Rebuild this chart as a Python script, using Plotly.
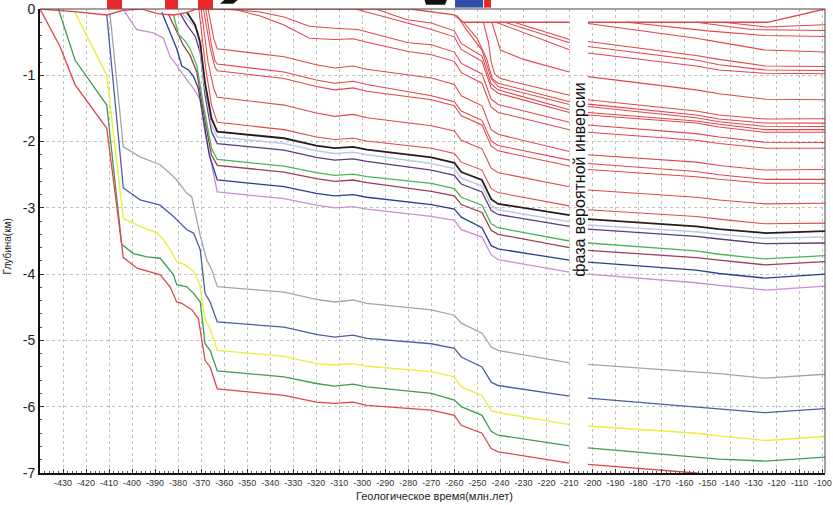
import plotly.graph_objects as go

# ---------------- data ----------------
x_tick_vals = list(range(-430, -99, 10))
x_tick_text = [str(v) for v in x_tick_vals]
y_tick_vals = [0, -1, -2, -3, -4, -5, -6, -7]
y_tick_text = ["0", "-1", "-2", "-3", "-4", "-5", "-6", "-7"]

# common time knots (млн лет) for horizons older than -363; None = break of the record
TK = [-363, -334, -320, -312, -304, -298, -270, -260, -257, -248, -244, -241, -210, None, -202, -155, -145, -125, -99]

# surface line
surf_t = [-440, -425, -411, -404, -396, -389, -382, -376, -372, -279, -260, -256, -210, None, -202, -124, -99]
surf_d = [0, -0.04, -0.09, -0.02, 0, -0.07, -0.09, -0.05, 0, 0, -0.09, -0.2, -0.2, None, -0.2, -0.2, 0]

# deep horizons: early part (t, d) and depths at TK
red_deep_pre_t = [-440, -431.3, -424.8, -411, -403.8, -397.8, -387.8, -383.5, -380.6, -378.4, -374, -371.2, -368.3, -366.1]
red_deep_pre_d = [0, -0.565, -1.14, -1.80, -3.75, -3.91, -4.01, -4.19, -4.42, -4.44, -4.54, -4.67, -5.30, -5.40]
red_deep_main = [-5.73, -5.83, -5.93, -5.95, -5.93, -5.98, -6.05, -6.13, -6.28, -6.40, -6.63, -6.68, -6.85, None, -6.87, -7.00, -7.05, -7.09, -7.01]

green_deep_pre_t = [-432, -424.8, -411, -404.5, -399.4, -393.6, -387.8, -384.9, -382, -380.6, -376.2, -373.3, -370.4, -368.3, -366.1]
green_deep_pre_d = [0, -0.77, -1.45, -3.55, -3.69, -3.74, -3.76, -3.89, -4.01, -4.16, -4.19, -4.29, -4.42, -5.05, -5.15]
green_deep_main = [-5.46, -5.55, -5.65, -5.69, -5.66, -5.70, -5.80, -5.90, -6.00, -6.13, -6.37, -6.43, -6.59, None, -6.62, -6.76, -6.79, -6.82, -6.76]

yellow_pre_t = [-425, -411, -403.8, -396.5, -389, -386.4, -383.5, -380.6, -377, -373.3, -370.7, -368.3, -366.1]
yellow_pre_d = [-0.04, -1.0, -3.16, -3.28, -3.38, -3.48, -3.63, -3.81, -3.86, -3.96, -4.14, -4.69, -4.82]
yellow_main = [-5.15, -5.24, -5.35, -5.37, -5.35, -5.39, -5.47, -5.55, -5.70, -5.83, -6.06, -6.09, -6.27, None, -6.29, -6.40, -6.44, -6.51, -6.45]

blue_pre_t = [-411, -403.8, -396.5, -387.8, -382, -376.2, -373.3, -370.4, -368.3, -366.1]
blue_pre_d = [-0.09, -2.70, -2.88, -2.96, -3.13, -3.33, -3.38, -3.63, -4.29, -4.42]
blue_main = [-4.72, -4.80, -4.91, -4.95, -4.92, -4.97, -5.05, -5.12, -5.25, -5.40, -5.63, -5.68, -5.84, None, -5.87, -6.00, -6.03, -6.09, -6.03]

gray_pre_t = [-409.6, -403.8, -396.5, -387.8, -383.5, -380.6, -376.2, -374.1, -370.4, -367.5, -365.3]
gray_pre_d = [-0.07, -2.08, -2.23, -2.35, -2.48, -2.58, -2.78, -2.83, -3.42, -3.79, -3.94]
gray_main = [-4.19, -4.27, -4.38, -4.42, -4.39, -4.44, -4.54, -4.62, -4.74, -4.89, -5.10, -5.15, -5.34, None, -5.36, -5.47, -5.50, -5.57, -5.51]

# middle coloured horizons
pink_pre_t = [-403.8, -398, -390.7, -386.4, -383.5, -380.6, -377.7, -373.3, -370.4, -368.3, -366.1]
pink_pre_d = [-0.01, -0.31, -0.36, -0.44, -0.72, -0.85, -1.0, -1.2, -1.37, -1.87, -2.23]
pink_main = [-2.76, -2.86, -2.96, -3.00, -2.98, -3.02, -3.13, -3.19, -3.33, -3.44, -3.71, -3.78, -3.97, None, -4.00, -4.13, -4.17, -4.24, -4.18]

navy_pre_t = [-387.1, -383.5, -380.6, -378.4, -375.5, -373.3, -371.2, -369.7, -366.5]
navy_pre_d = [-0.05, -0.36, -0.6, -0.86, -0.92, -1.02, -1.2, -1.52, -2.2]
navy_main = [-2.58, -2.68, -2.78, -2.82, -2.80, -2.84, -2.95, -3.02, -3.14, -3.30, -3.57, -3.62, -3.79, None, -3.82, -3.94, -3.99, -4.06, -4.00]

brown_pre_t = [-384.2, -380.6, -377.7, -374.8, -371.9, -368.3, -365.5]
brown_pre_d = [-0.08, -0.35, -0.55, -0.7, -0.95, -1.7, -2.2]
brown_main = [-2.36, -2.46, -2.56, -2.60, -2.58, -2.62, -2.75, -2.82, -2.95, -3.07, -3.34, -3.40, -3.60, None, -3.64, -3.75, -3.79, -3.86, -3.81]

greenm_pre_t = [-382, -379.9, -377, -374.8, -371.9, -369, -365.5]
greenm_pre_d = [-0.09, -0.38, -0.48, -0.6, -0.85, -1.45, -2.1]
greenm_main = [-2.27, -2.37, -2.47, -2.51, -2.49, -2.53, -2.63, -2.71, -2.84, -2.96, -3.24, -3.30, -3.50, None, -3.53, -3.65, -3.70, -3.77, -3.72]

purple_pre_t = [-379.1, -376.2, -372.6, -370.4, -368.3, -365.5]
purple_pre_d = [-0.07, -0.24, -0.41, -0.66, -1.3, -1.85]
purple_main = [-2.03, -2.13, -2.24, -2.28, -2.26, -2.30, -2.43, -2.51, -2.64, -2.76, -3.04, -3.10, -3.28, None, -3.32, -3.43, -3.47, -3.54, -3.53]

lblue_pre_t = [-378.4, -374.1, -371.2, -369, -365.5]
lblue_pre_d = [-0.07, -0.21, -0.36, -1.05, -1.75]
lblue_main = [-1.93, -2.03, -2.14, -2.18, -2.16, -2.20, -2.33, -2.41, -2.55, -2.67, -2.96, -3.03, -3.21, None, -3.26, -3.36, -3.40, -3.46, -3.44]

black_pre_t = [-376.2, -372.6, -370.4, -368.3, -365.5]
black_pre_d = [-0.05, -0.24, -0.51, -1.12, -1.65]
black_main = [-1.85, -1.95, -2.06, -2.10, -2.08, -2.12, -2.24, -2.32, -2.46, -2.58, -2.87, -2.94, -3.11, None, -3.17, -3.28, -3.32, -3.38, -3.35]

# red horizons from the -370 fan
re_pre_t = [-371, -368, -365.5]
re_pre_d = [0, -0.9, -1.45]
re_main = [-1.71, -1.82, -1.93, -1.97, -1.95, -1.99, -2.10, -2.18, -2.31, -2.43, -2.71, -2.77, -2.97, None, -3.03, -3.13, -3.17, -3.24, -3.23]
rd_pre_t = [-370, -367, -364.5]
rd_pre_d = [0, -0.8, -1.2]
rd_main = [-1.33, -1.45, -1.57, -1.62, -1.59, -1.64, -1.76, -1.84, -1.98, -2.11, -2.40, -2.47, -2.68, None, -2.73, -2.84, -2.88, -2.94, -2.93]
rc_pre_t = [-369, -366, -364]
rc_pre_d = [0, -0.6, -0.88]
rc_main = [-0.93, -1.05, -1.17, -1.22, -1.19, -1.24, -1.37, -1.46, -1.61, -1.75, -2.07, -2.14, -2.37, None, -2.42, -2.53, -2.57, -2.63, -2.63]
rb_pre_t = [-368, -365.5, -364]
rb_pre_d = [0, -0.55, -0.78]
rb_main = [-0.83, -0.95, -1.07, -1.12, -1.09, -1.14, -1.31, -1.40, -1.54, -1.68, -1.99, -2.06, -2.28, None, -2.33, -2.45, -2.50, -2.57, -2.57]
ra_pre_t = [-367, -364.5]
ra_pre_d = [0, -0.45]
ra_main = [-0.60, -0.72, -0.84, -0.89, -0.86, -0.91, -1.04, -1.14, -1.31, -1.46, -1.82, -1.89, -2.15, None, -2.20, -2.31, -2.36, -2.43, -2.42]

# younger red horizons (own time knots)
la_t = [-356, -344, -334, -323, -312, -304, -298, -280, -270, -260, -257, -248, -244, -241, -210, None, -202, -155, -145, -125, -99]
la_d = [0, -0.11, -0.24, -0.44, -0.46, -0.45, -0.50, -0.64, -0.69, -0.79, -0.96, -1.12, -1.48, -1.56, -1.82, None, -1.86, -1.98, -2.03, -2.10, -2.10]
lb_t = [-362, -345, -334, -323, -312, -302, -280, -270, -260, -257, -248, -244, -241, -210, None, -202, -155, -145, -125, -99]
lb_d = [0, -0.04, -0.12, -0.26, -0.29, -0.31, -0.51, -0.54, -0.65, -0.82, -0.98, -1.36, -1.44, -1.71, None, -1.75, -1.88, -1.93, -2.01, -2.015]
lc_t = [-303, -281, -270, -260, -257, -248, -244, -241, -210, None, -202, -155, -145, -125, -99]
lc_d = [0, -0.21, -0.31, -0.42, -0.61, -0.79, -1.19, -1.27, -1.56, None, -1.60, -1.72, -1.78, -1.86, -1.86]
ld_t = [-294, -281, -270, -260, -257, -248, -244, -241, -210, None, -202, -155, -145, -125, -99]
ld_d = [0, -0.16, -0.21, -0.33, -0.52, -0.71, -1.13, -1.22, -1.52, None, -1.56, -1.69, -1.74, -1.82, -1.82]
g7_t = [-259, -255, -248, -244, -241, -210, None, -202, -155, -145, -125, -99]
g7_d = [-0.09, -0.30, -0.62, -1.05, -1.17, -1.44, None, -1.47, -1.64, -1.70, -1.77, -1.773]
g6_t = [-256, -250, -246, -243.5, -241, -210, None, -202, -155, -145, -125, -99]
g6_d = [-0.2, -0.45, -0.75, -1.05, -1.12, -1.40, None, -1.435, -1.60, -1.66, -1.72, -1.722]
g5_t = [-247.4, -245.2, -244, -242.5, -240, -210, None, -202, -155, -145, -125, -99]
g5_d = [-0.2, -0.5, -0.8, -0.98, -1.05, -1.30, None, -1.37, -1.54, -1.60, -1.66, -1.657]
g4_t = [-243.7, -240, -230, -210, None, -202, -155, -145, -125, -99]
g4_d = [-0.2, -0.62, -0.76, -0.95, None, -1.02, -1.22, -1.28, -1.36, -1.37]
g3_t = [-242, -210, None, -202, -155, -145, -125, -99]
g3_d = [-0.2, -0.615, None, -0.665, -0.86, -0.92, -0.97, -0.977]
g2_t = [-238, -210, None, -202, -155, -145, -125, -99]
g2_d = [-0.2, -0.51, None, -0.565, -0.77, -0.84, -0.92, -0.927]
g1_t = [-234, -210, None, -202, -155, -145, -125, -99]
g1_d = [-0.2, -0.46, None, -0.49, -0.70, -0.76, -0.86, -0.867]
g0_t = [-202, -155, -145, -125, -99]
g0_d = [-0.22, -0.44, -0.50, -0.62, -0.65]
n0_t = [-185, -150, -125, -99]
n0_d = [-0.2, -0.33, -0.40, -0.414]
n1_t = [-155, -131, -99]
n1_d = [-0.2, -0.31, -0.323]
n2_t = [-143, -125, -99]
n2_d = [-0.2, -0.27, -0.237]

# ---------------- styles ----------------
RED = "rgb(225,70,74)"
fig = go.Figure()


def add(t, d, color, width=1.1):
    fig.add_trace(go.Scatter(x=t, y=d, mode="lines", line=dict(color=color, width=width),
                             connectgaps=False, hoverinfo="skip"))


def add_tk(pre_t, pre_d, main_d, color, width=1.2):
    add(pre_t + TK, pre_d + main_d, color, width)


# deep horizons
add_tk(gray_pre_t, gray_pre_d, gray_main, "#a4a4a8", 1.3)
add_tk(blue_pre_t, blue_pre_d, blue_main, "#4a5ea8", 1.3)
add_tk(yellow_pre_t, yellow_pre_d, yellow_main, "#eded3c", 1.4)
add_tk(green_deep_pre_t, green_deep_pre_d, green_deep_main, "#3f9a58", 1.3)
add_tk(red_deep_pre_t, red_deep_pre_d, red_deep_main, "#e0464b", 1.3)

# middle horizons
add_tk(pink_pre_t, pink_pre_d, pink_main, "#c98fd0", 1.3)
add_tk(navy_pre_t, navy_pre_d, navy_main, "#2c3d8f", 1.3)
add_tk(brown_pre_t, brown_pre_d, brown_main, "#9a3f55", 1.3)
add_tk(greenm_pre_t, greenm_pre_d, greenm_main, "#4cb553", 1.3)
add_tk(purple_pre_t, purple_pre_d, purple_main, "#5b3a7e", 1.3)
add_tk(lblue_pre_t, lblue_pre_d, lblue_main, "#bccbe4", 1.5)

# red horizons
for pt, pdv, md in [(re_pre_t, re_pre_d, re_main), (rd_pre_t, rd_pre_d, rd_main),
                    (rc_pre_t, rc_pre_d, rc_main), (rb_pre_t, rb_pre_d, rb_main),
                    (ra_pre_t, ra_pre_d, ra_main)]:
    add_tk(pt, pdv, md, RED, 1.05)
for t, d in [(la_t, la_d), (lb_t, lb_d), (lc_t, lc_d), (ld_t, ld_d), (g7_t, g7_d),
             (g6_t, g6_d), (g5_t, g5_d), (g4_t, g4_d), (g3_t, g3_d), (g2_t, g2_d),
             (g1_t, g1_d), (g0_t, g0_d), (n0_t, n0_d), (n1_t, n1_d), (n2_t, n2_d)]:
    add(t, d, RED, 1.05)

add_tk(black_pre_t, black_pre_d, black_main, "#2b1a1a", 1.8)
add(surf_t, surf_d, RED, 1.3)

# ---------------- layout ----------------
grid = "#c2c2c2"
fig.update_layout(
    width=833, height=505,
    margin=dict(l=40, r=8, t=9, b=32),
    showlegend=False, hovermode=False,
    plot_bgcolor="white", paper_bgcolor="white",
    font=dict(family="Liberation Sans, Arial, sans-serif", color="#222"),
    xaxis=dict(range=[-440, -99], tickvals=x_tick_vals, ticktext=x_tick_text,
               ticks="inside", ticklen=4, tickcolor="#333", tickwidth=1,
               showline=True, linecolor="#111", linewidth=2, zeroline=False,
               showgrid=True, gridcolor=grid, griddash="dot", gridwidth=1,
               tickfont=dict(size=9, color="#333"), automargin=False,
               minor=dict(ticks="inside", ticklen=2, dtick=2, tickcolor="#555", showgrid=False)),
    yaxis=dict(range=[-7, 0], tickvals=y_tick_vals, ticktext=y_tick_text,
               ticks="inside", ticklen=4, tickcolor="#333", tickwidth=1,
               showline=True, linecolor="#111", linewidth=2, zeroline=False,
               showgrid=True, gridcolor=grid, griddash="dot", gridwidth=1,
               tickfont=dict(size=14, color="#222"), automargin=False,
               minor=dict(ticks="inside", ticklen=2, dtick=0.2, tickcolor="#555", showgrid=False)),
)

# top and right frame lines
fig.add_shape(type="line", xref="paper", yref="paper", x0=0, x1=1, y0=1, y1=1,
              line=dict(color="#444", width=1))
fig.add_shape(type="line", xref="paper", yref="paper", x0=1, x1=1, y0=0, y1=1,
              line=dict(color="#444", width=1))

# cropped event symbols above the plot
for x0, x1 in [(0.0854, 0.1045), (0.1592, 0.1758), (0.2013, 0.2204)]:
    fig.add_shape(type="rect", xref="paper", yref="paper", x0=x0, x1=x1, y0=1.0, y1=1.03,
                  fillcolor="#e8282a", line=dict(width=0))
fig.add_shape(type="path", xref="paper", yref="paper",
              path="M 0.2293 1.0114 L 0.2420 1.03 L 0.2590 1.03 L 0.2463 1.0114 Z",
              fillcolor="#111", line=dict(width=0))
fig.add_shape(type="path", xref="paper", yref="paper",
              path="M 0.4879 1.03 L 0.4917 1.0093 L 0.5159 1.0093 L 0.5210 1.03 Z",
              fillcolor="#111", line=dict(width=0))
fig.add_shape(type="rect", xref="paper", yref="paper", x0=0.5287, x1=0.5643, y0=1.003, y1=1.03,
              fillcolor="#2f4fa8", line=dict(width=0))
fig.add_shape(type="rect", xref="paper", yref="paper", x0=0.5656, x1=0.5745, y0=1.003, y1=1.03,
              fillcolor="#e8282a", line=dict(width=0))

# texts
fig.add_annotation(x=-206, y=-2.58, xref="x", yref="y", text="фаза вероятной инверсии",
                   textangle=-90, showarrow=False, font=dict(size=16, color="#111"))
fig.add_annotation(x=0.503, y=-0.049, xref="paper", yref="paper", text="Геологическое время(млн.лет)",
                   showarrow=False, font=dict(size=11, color="#222"), yanchor="middle")
fig.add_annotation(x=-0.041, y=0.488, xref="paper", yref="paper", text="Глубина(км)",
                   textangle=-90, showarrow=False, font=dict(size=10, color="#222"), xanchor="center")

fig.write_html("out.html", config={"displayModeBar": False},
               post_script="document.body.style.margin='0';")
